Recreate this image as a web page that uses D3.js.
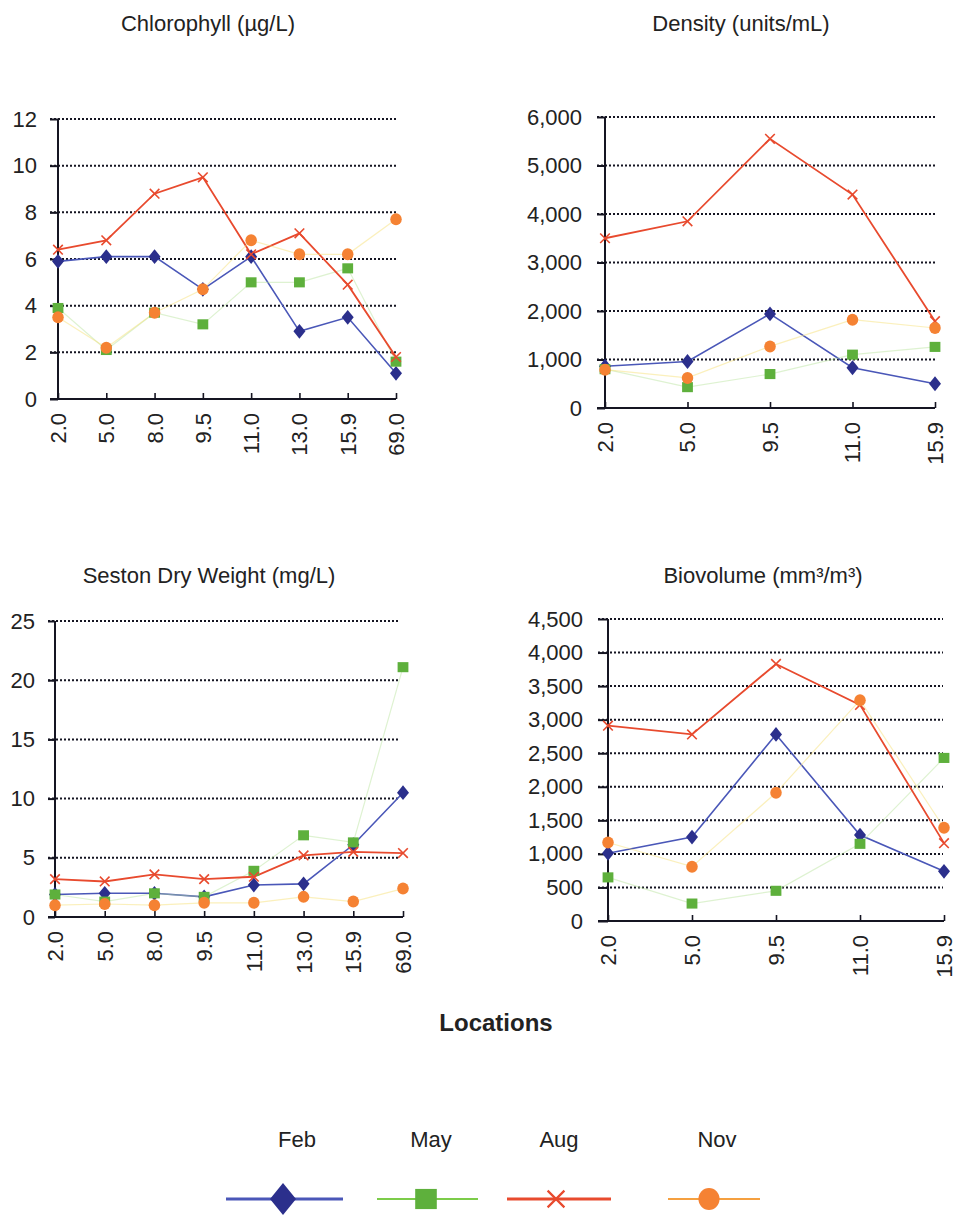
<!DOCTYPE html>
<html>
<head>
<meta charset="utf-8">
<script src="https://cdn.jsdelivr.net/npm/d3@7"></script>
<style>
  html, body { margin: 0; padding: 0; background: #fff; }
  svg { display: block; font-family: "Liberation Sans", Arial, sans-serif; }
</style>
</head>
<body>
<svg id="chart" width="957" height="1216"></svg>
<script>
// Sampling locations
const locations8 = ["2.0", "5.0", "8.0", "9.5", "11.0", "13.0", "15.9", "69.0"];
const locations5 = ["2.0", "5.0", "9.5", "11.0", "15.9"];

// Seasons
const seasons = ["Feb", "May", "Aug", "Nov"];

// Chlorophyll (µg/L)
const chlFeb = [5.9, 6.1, 6.1, 4.7, 6.1, 2.9, 3.5, 1.1];
const chlMay = [3.9, 2.1, 3.7, 3.2, 5.0, 5.0, 5.6, 1.6];
const chlAug = [6.4, 6.8, 8.8, 9.5, 6.2, 7.1, 4.9, 1.8];
const chlNov = [3.5, 2.2, 3.7, 4.7, 6.8, 6.2, 6.2, 7.7];

// Density (units/mL)
const denFeb = [860, 960, 1940, 830, 500];
const denMay = [800, 430, 700, 1100, 1260];
const denAug = [3500, 3850, 5550, 4400, 1790];
const denNov = [790, 620, 1270, 1820, 1650];

// Seston dry weight (mg/L)
const sesFeb = [1.9, 2.0, 2.0, 1.7, 2.7, 2.8, 6.1, 10.5];
const sesMay = [1.9, 1.3, 2.0, 1.7, 3.9, 6.9, 6.3, 21.1];
const sesAug = [3.2, 3.0, 3.6, 3.2, 3.4, 5.2, 5.5, 5.4];
const sesNov = [1.0, 1.1, 1.0, 1.2, 1.2, 1.7, 1.3, 2.4];

// Biovolume (mm³/m³)
const bioFeb = [1010, 1250, 2780, 1280, 740];
const bioMay = [650, 260, 450, 1150, 2430];
const bioAug = [2910, 2780, 3830, 3220, 1160];
const bioNov = [1170, 810, 1910, 3290, 1390];

// Y-axis tick values
const chlTicks = [0, 2, 4, 6, 8, 10, 12];
const denTicks = [0, 1000, 2000, 3000, 4000, 5000, 6000];
const sesTicks = [0, 5, 10, 15, 20, 25];
const bioTicks = [0, 500, 1000, 1500, 2000, 2500, 3000, 3500, 4000, 4500];

const style = {
  Feb: { line: "#4a57b8", mark: "#2b2f8c", lineOpacity: 1, width: 1.6, shape: "diamond" },
  May: { line: "#b5e29a", mark: "#5eb03c", lineOpacity: 0.45, width: 1.2, shape: "square" },
  Aug: { line: "#e84a2e", mark: "#e84a2e", lineOpacity: 1, width: 1.8, shape: "cross" },
  Nov: { line: "#f7e27a", mark: "#f58233", lineOpacity: 0.5, width: 1.2, shape: "circle" }
};

const svg = d3.select("#chart");

const panels = [
  { title: "Chlorophyll  (µg/L)", tx: 208, ty: 31, cats: locations8,
    series: [chlFeb, chlMay, chlAug, chlNov], ticks: chlTicks, fmt: d3.format("d"),
    x0: 58, x1: 396, yTop: 119, yBot: 399, gridLeft: 50, gridRight: 396 },
  { title: "Density  (units/mL)", tx: 741, ty: 31, cats: locations5,
    series: [denFeb, denMay, denAug, denNov], ticks: denTicks, fmt: d3.format(","),
    x0: 605, x1: 935, yTop: 117, yBot: 408, gridLeft: 597, gridRight: 935 },
  { title: "Seston Dry Weight (mg/L)", tx: 209, ty: 583, cats: locations8,
    series: [sesFeb, sesMay, sesAug, sesNov], ticks: sesTicks, fmt: d3.format("d"),
    x0: 55, x1: 403, yTop: 621, yBot: 917, gridLeft: 48, gridRight: 400 },
  { title: "Biovolume (mm³/m³)", tx: 763, ty: 583, cats: locations5,
    series: [bioFeb, bioMay, bioAug, bioNov], ticks: bioTicks, fmt: d3.format(","),
    x0: 608, x1: 944, yTop: 619, yBot: 921, gridLeft: 598, gridRight: 943 }
];

function drawMarker(g, shape, color, x, y, s) {
  if (shape === "diamond") {
    g.append("path")
      .attr("d", `M${x},${y - s * 0.62}L${x + s * 0.5},${y}L${x},${y + s * 0.62}L${x - s * 0.5},${y}Z`)
      .attr("fill", color);
  } else if (shape === "square") {
    g.append("rect")
      .attr("x", x - s * 0.45).attr("y", y - s * 0.42)
      .attr("width", s * 0.9).attr("height", s * 0.84)
      .attr("fill", color);
  } else if (shape === "cross") {
    const h = s * 0.4;
    g.append("path")
      .attr("d", `M${x - h},${y - h}L${x + h},${y + h}M${x - h},${y + h}L${x + h},${y - h}`)
      .attr("stroke", color).attr("stroke-width", s > 14 ? 2.2 : 1.6).attr("fill", "none");
  } else {
    g.append("ellipse")
      .attr("cx", x).attr("cy", y)
      .attr("rx", s * 0.48).attr("ry", s * 0.5)
      .attr("fill", color);
  }
}

panels.forEach(p => {
  const g = svg.append("g");
  const x = d3.scalePoint().domain(p.cats).range([p.x0, p.x1]).padding(0);
  const yMax = p.ticks[p.ticks.length - 1];
  const y = d3.scaleLinear().domain([0, yMax]).range([p.yBot, p.yTop]);

  // title
  g.append("text")
    .attr("x", p.tx).attr("y", p.ty)
    .attr("text-anchor", "middle")
    .attr("font-size", 22).attr("fill", "#222")
    .text(p.title);

  // dotted horizontal gridlines
  g.append("g").selectAll("line")
    .data(p.ticks.filter(t => t > 0))
    .join("line")
    .attr("x1", p.gridLeft).attr("x2", p.gridRight)
    .attr("y1", d => y(d)).attr("y2", d => y(d))
    .attr("stroke", "#151522").attr("stroke-width", 2)
    .attr("stroke-dasharray", "2,2");

  // y axis
  const pad = p.x0 > 300 ? 15 : 13;
  const yAxis = d3.axisLeft(y).tickValues(p.ticks).tickFormat(p.fmt)
    .tickSize(p.x0 - p.gridLeft).tickPadding(pad);
  const ya = g.append("g").attr("transform", `translate(${p.x0},0)`).call(yAxis);
  ya.select(".domain").remove();
  ya.selectAll(".tick line").attr("stroke", "#151522").attr("stroke-width", 2);
  ya.selectAll(".tick text")
    .attr("x", -(p.x0 - p.gridLeft) - pad)
    .attr("font-size", 22).attr("fill", "#222")
    .attr("font-family", "'Liberation Sans', Arial, sans-serif");
  g.append("line")
    .attr("x1", p.x0).attr("x2", p.x0)
    .attr("y1", p.yTop).attr("y2", p.yBot)
    .attr("stroke", "#151522").attr("stroke-width", 2);

  // x axis with upward tick marks and rotated labels
  const xAxis = d3.axisBottom(x).tickSize(-6).tickSizeOuter(0).tickPadding(14);
  const xa = g.append("g").attr("transform", `translate(0,${p.yBot})`).call(xAxis);
  xa.select(".domain").attr("d", `M${p.gridLeft},0H${p.x1}`)
    .attr("stroke", "#151522").attr("stroke-width", 2);
  xa.selectAll(".tick line").attr("stroke", "#151522").attr("stroke-width", 1.6);
  xa.selectAll(".tick text")
    .attr("font-size", 22).attr("fill", "#222")
    .attr("font-family", "'Liberation Sans', Arial, sans-serif")
    .attr("transform", "rotate(-90)")
    .attr("text-anchor", "end")
    .attr("x", -14).attr("y", 0).attr("dy", "0.34em");

  // series lines then markers
  seasons.forEach((s, i) => {
    const st = style[s];
    const vals = p.series[i];
    const line = d3.line().x((d, j) => x(p.cats[j])).y(d => y(d));
    g.append("path")
      .attr("d", line(vals))
      .attr("fill", "none")
      .attr("stroke", st.line)
      .attr("stroke-opacity", st.lineOpacity)
      .attr("stroke-width", st.width);
  });
  seasons.forEach((s, i) => {
    const st = style[s];
    p.series[i].forEach((v, j) => drawMarker(g, st.shape, st.mark, x(p.cats[j]), y(v), 12));
  });
});

// shared x-axis title
svg.append("text")
  .attr("x", 496).attr("y", 1031)
  .attr("text-anchor", "middle")
  .attr("font-size", 24).attr("font-weight", "bold").attr("fill", "#222")
  .text("Locations");

// legend
const legendItems = [
  { s: "Feb", label: 297, x1: 226, x2: 343, m: 283 },
  { s: "May", label: 431, x1: 377, x2: 478, m: 426 },
  { s: "Aug", label: 559, x1: 507, x2: 611, m: 556 },
  { s: "Nov", label: 717, x1: 668, x2: 760, m: 709 }
];
const legend = svg.append("g");
legendItems.forEach(it => {
  const st = style[it.s];
  legend.append("text")
    .attr("x", it.label).attr("y", 1147)
    .attr("text-anchor", "middle")
    .attr("font-size", 22).attr("fill", "#222")
    .text(it.s);
  legend.append("line")
    .attr("x1", it.x1).attr("x2", it.x2)
    .attr("y1", 1199).attr("y2", 1199)
    .attr("stroke", it.s === "Nov" ? "#f5a040" : (it.s === "May" ? "#7ccc4a" : st.line))
    .attr("stroke-width", it.s === "May" || it.s === "Nov" ? 2 : 3);
  const size = it.s === "Feb" ? 26 : (it.s === "May" ? 24 : (it.s === "Aug" ? 21 : 22));
  drawMarker(legend, st.shape, st.mark, it.m, 1199, size);
});
</script>
</body>
</html>
